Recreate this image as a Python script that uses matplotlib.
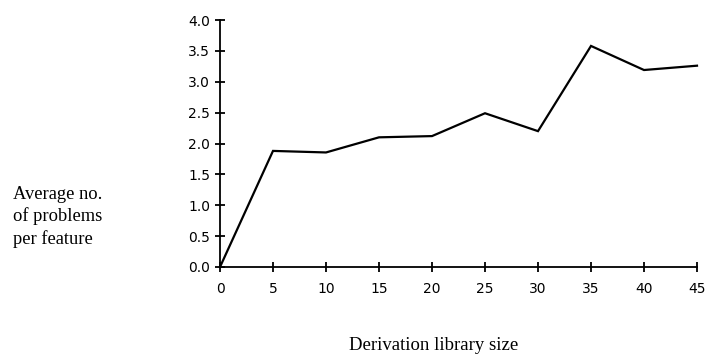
import matplotlib
matplotlib.use("Agg")
import matplotlib.pyplot as plt

library_size = [0, 5, 10, 15, 20, 25, 30, 35, 40, 45]
avg_problems = [0.0, 1.88, 1.855, 2.10, 2.12, 2.49, 2.20, 3.58, 3.19, 3.26]
x_ticks = [0, 5, 10, 15, 20, 25, 30, 35, 40, 45]
y_ticks = [0.0, 0.5, 1.0, 1.5, 2.0, 2.5, 3.0, 3.5, 4.0]

fig = plt.figure(figsize=(7.08, 3.54), dpi=100)
ax = fig.add_axes([220/708, 1 - 267/354, (697 - 220)/708, (267 - 20)/354])

ax.plot(library_size, avg_problems, color="black", lw=1.6, solid_joinstyle="miter", clip_on=False)

ax.set_xlim(0, 45)
ax.set_ylim(0, 4.0)
ax.set_xticks(x_ticks)
ax.set_yticks(y_ticks)
ax.set_xticklabels([str(v) for v in x_ticks], fontfamily="DejaVu Sans", fontsize=10)
ax.set_yticklabels([f"{v:.1f}" for v in y_ticks], fontfamily="DejaVu Sans", fontsize=10)

for s in ["top", "right"]:
    ax.spines[s].set_visible(False)
for s in ["left", "bottom"]:
    ax.spines[s].set_linewidth(1.3)
    ax.spines[s].set_color("black")

ax.tick_params(axis="both", direction="inout", length=7, width=1.3, colors="black")
ax.tick_params(axis="y", pad=3.5)
ax.tick_params(axis="x", pad=7)

fig.text(434/708, 1 - 345/354, "Derivation library size", ha="center", va="center",
         fontfamily="Liberation Serif", fontsize=13.5)
fig.text(13/708, 1 - 217/354, "Average no.\nof problems\nper feature", ha="left", va="center",
         fontfamily="Liberation Serif", fontsize=13.3, linespacing=1.32)

fig.savefig("out.png", dpi=100, facecolor="white")
